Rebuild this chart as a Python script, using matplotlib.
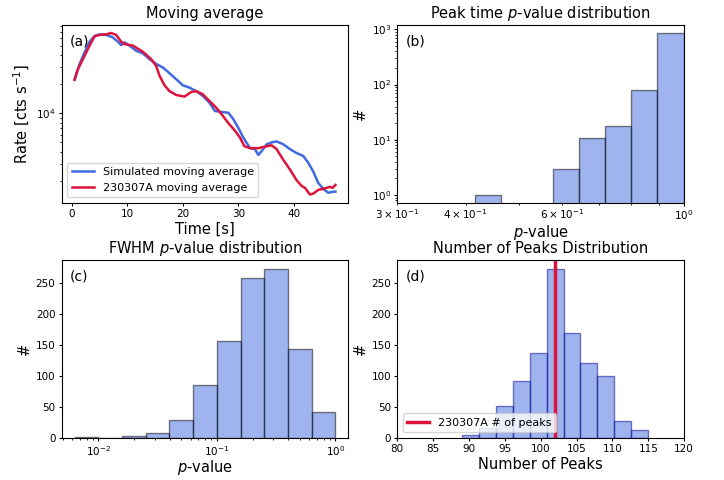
import numpy as np
import matplotlib
matplotlib.use("Agg")
import matplotlib.pyplot as plt

# (a) moving averages (time in s, rate in cts/s)
sim_t = [0.5, 1.4, 2.3, 3.2, 4.1, 5.0, 6.2, 7.4, 8.3, 8.9, 9.5, 10.4, 11.6, 12.8,
         14.0, 15.2, 16.4, 17.6, 18.8, 20.0, 21.2, 22.4, 23.6, 24.8, 25.8, 27.0,
         28.2, 29.1, 30.0, 30.9, 32.1, 33.0, 33.6, 34.2, 35.1, 36.0, 36.9, 38.1,
         39.3, 40.5, 41.7, 42.6, 43.5, 44.4, 45.3, 46.2, 47.0, 47.5]
sim_rate = [22540, 32360, 42660, 54950, 63100, 65610, 64570, 60950, 54950, 50820,
            54080, 50120, 44360, 41690, 36310, 32360, 29790, 26000, 22540, 19500,
            18450, 16980, 15140, 12880, 10570, 10330, 10160, 8710, 7080, 5620,
            4370, 4270, 3720, 4070, 4790, 5010, 5130, 4790, 4270, 3890, 3630,
            3090, 2510, 1910, 1660, 1510, 1550, 1550]

grb_t = [0.5, 1.1, 2.0, 3.2, 4.1, 5.0, 6.2, 7.1, 8.0, 8.9, 9.5, 11.0, 12.8, 14.3,
         15.2, 15.8, 16.7, 17.6, 18.8, 20.3, 21.5, 22.4, 23.6, 24.8, 26.0, 27.0,
         28.2, 29.4, 30.3, 31.1, 32.1, 33.6, 35.1, 36.0, 36.9, 38.1, 39.3, 40.5,
         41.4, 42.0, 42.9, 43.5, 44.4, 45.3, 46.5, 47.0, 47.5]
grb_rate = [22180, 28640, 36310, 50120, 62520, 64570, 65610, 67610, 64570, 54950,
            52000, 50120, 43350, 36310, 30900, 24550, 19500, 16980, 15490, 14890,
            16600, 16980, 15740, 13430, 11480, 9770, 7940, 6610, 5620, 4570, 4370,
            4370, 4570, 4680, 4270, 3310, 2630, 2040, 1780, 1700, 1450, 1480, 1620,
            1660, 1740, 1700, 1820]

# (b) peak time p-value histogram
peak_edges = [0.416, 0.464, 0.517, 0.577, 0.644, 0.718, 0.801, 0.894, 1.0]
peak_counts = [1, 0, 0, 3, 11, 18, 81, 870]

# (c) FWHM p-value histogram (log bins)
fwhm_edges = [10 ** e for e in np.arange(-2.2, 0.01, 0.2)]
fwhm_counts = [1, 0, 3, 7, 28, 86, 157, 259, 274, 143, 41]

# (d) number of peaks histogram
npk_edges = np.linspace(89, 115, 12)
npk_counts = [4, 15, 52, 92, 137, 274, 169, 121, 100, 27, 12]
grb_npeaks = 102

BLUE = "royalblue"
RED = "crimson"
TS = 10.5   # titles / axis labels
TK = 7.5    # tick labels

plt.rcParams.update({
    "xtick.major.size": 2.2, "ytick.major.size": 2.2,
    "xtick.minor.size": 1.3, "ytick.minor.size": 1.3,
    "xtick.major.pad": 2.2, "ytick.major.pad": 2.2,
    "xtick.minor.pad": 2.2, "ytick.minor.pad": 2.2,
    "axes.labelpad": 2.5, "axes.titlepad": 5.0,
})

fig, axes = plt.subplots(2, 2, figsize=(7.24, 4.8), dpi=100)
plt.subplots_adjust(left=0.085, right=0.945, bottom=0.088, top=0.948,
                    wspace=0.17, hspace=0.324)
ax_a, ax_b, ax_c, ax_d = axes.flatten()

# (a)
ax_a.plot(sim_t, sim_rate, color=BLUE, lw=1.8, label="Simulated moving average")
ax_a.plot(grb_t, grb_rate, color=RED, lw=1.8, label="230307A moving average")
ax_a.set_yscale("log")
ax_a.set_title("Moving average", fontsize=TS)
ax_a.set_xlabel("Time [s]", fontsize=TS)
ax_a.set_ylabel("Rate [cts s$^{-1}$]", fontsize=TS)
ax_a.legend(loc="lower left", fontsize=8)

# (b)
ax_b.hist(peak_edges[:-1], bins=peak_edges, weights=peak_counts, log=True,
          color=BLUE, alpha=0.5, edgecolor="black")
ax_b.set_xscale("log")
ax_b.set_xlim(0.3, 1.0)
ax_b.set_ylim(0.73, 1200)
ax_b.set_title("Peak time $p$-value distribution", fontsize=TS)
ax_b.set_xlabel("$p$-value", fontsize=TS, labelpad=0.3)
ax_b.set_ylabel("#", fontsize=TS)

# (c)
ax_c.hist(fwhm_edges[:-1], bins=fwhm_edges, weights=fwhm_counts,
          color=BLUE, alpha=0.5, edgecolor="black")
ax_c.set_xscale("log")
ax_c.set_title("FWHM $p$-value distribution", fontsize=TS)
ax_c.set_xlabel("$p$-value", fontsize=TS, labelpad=0.3)
ax_c.set_ylabel("#", fontsize=TS)

# (d)
ax_d.hist(npk_edges[:-1], bins=npk_edges, weights=npk_counts,
          color=BLUE, alpha=0.5, edgecolor="darkblue")
ax_d.axvline(grb_npeaks, color=RED, lw=2.5, label="230307A # of peaks")
ax_d.set_xlim(80, 120)
ax_d.set_title("Number of Peaks Distribution", fontsize=TS)
ax_d.set_xlabel("Number of Peaks", fontsize=TS)
ax_d.set_ylabel("#", fontsize=TS)
ax_d.legend(loc="lower left", fontsize=8)

for ax, lab in zip([ax_a, ax_b, ax_c, ax_d], ["(a)", "(b)", "(c)", "(d)"]):
    ax.text(0.028, 0.945, lab, transform=ax.transAxes, va="top", fontsize=10)
    ax.tick_params(labelsize=TK)
    ax.tick_params(which="minor", labelsize=TK)

fig.savefig("out.png", dpi=100)
